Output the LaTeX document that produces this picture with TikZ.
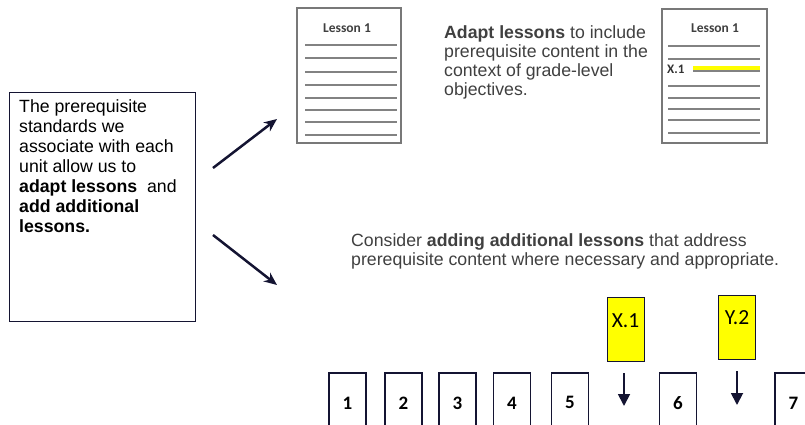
\documentclass[tikz,border=0pt]{standalone}
\usepackage{fontspec}
\setmainfont{Liberation Sans}
\newfontfamily\calib{Carlito}
\usetikzlibrary{arrows.meta,shadows}
\definecolor{ink}{RGB}{20,20,50}
\definecolor{txtgrey}{RGB}{64,64,64}
\definecolor{docgrey}{RGB}{120,120,120}
\definecolor{lineg}{RGB}{130,130,130}
\definecolor{hiyellow}{RGB}{255,255,0}
\tikzset{
  bigtext/.style={inner sep=0pt, align=left, font=\fontsize{17.7}{20}\selectfont},
  doc/.style={draw=docgrey, line width=1.4pt, fill=white, minimum width=104pt, minimum height=135pt,
    drop shadow={opacity=0.25, shadow xshift=1.2pt, shadow yshift=-1.2pt}},
  doctitle/.style={inner sep=0pt, font=\calib\bfseries\fontsize{13.5}{15}\selectfont, text=txtgrey},
  docline/.style={draw=lineg, line width=1.5pt},
  bigarrow/.style={draw=ink, line width=2.5pt, -{Stealth[length=13pt,width=11pt]}},
  downarrow/.style={draw=ink, line width=1.8pt, -{Triangle[length=12pt,width=12pt]}},
  tag/.style={draw=ink, line width=1pt, fill=hiyellow, minimum width=37pt, minimum height=64pt, inner sep=0pt},
  tagtext/.style={inner sep=0pt, font=\calib\fontsize{21.5}{24}\selectfont},
  lessonbox/.style={draw=ink, line width=1.8pt, minimum width=37pt, minimum height=60pt, inner sep=0pt,
    font=\calib\bfseries\fontsize{19}{20}\selectfont, anchor=north},
}
\begin{document}
\begin{tikzpicture}[x=1pt,y=-1pt]
\useasboundingbox (0,0) rectangle (805,425);
\clip (0,0) rectangle (805,425);

% left box
\node[draw=ink, line width=1.3pt, minimum width=186pt, minimum height=229pt, anchor=north west, inner sep=0pt] (intro) at (9,92) {};
\node[bigtext, anchor=north west] (introtext) at (19,99.5) {The prerequisite\\standards we\\associate with each\\unit allow us to\\\textbf{adapt lessons}\ \ and\\\textbf{add additional}\\\textbf{lessons.}};

% arrows
\coordinate (a1s) at (213,168);
\coordinate (a1e) at (277,119);
\coordinate (a2s) at (213,235);
\coordinate (a2e) at (277,285);
\draw[bigarrow] (a1s) -- (a1e);
\draw[bigarrow] (a2s) -- (a2e);

% doc 1
\node[doc] (doc1) at (349,75.5) {};
\node[doctitle] (doc1title) at (347,28) {Lesson 1};
\foreach \yy in {45,58,72,85,98,110,122,135}{
  \draw[docline] (305,\yy) -- (397,\yy);
}

% doc 2
\node[doc, minimum width=105pt, minimum height=134pt] (doc2) at (714.5,76) {};
\node[doctitle] (doc2title) at (715,28) {Lesson 1};
\foreach \yy in {46,59,86,98,109,120,133}{
  \draw[docline] (668,\yy) -- (760,\yy);
}
\node[doctitle, anchor=west, text=black!80, font=\calib\bfseries\fontsize{13}{15}\selectfont] (x1small) at (667,69.5) {X.1};
\draw[draw=hiyellow, line width=3.5pt] (693,67.8) -- (760,67.8);
\draw[docline] (693,71) -- (760,71);

% upper text
\node[bigtext, anchor=north west, text=txtgrey, font=\fontsize{17.7}{19}\selectfont] (adapttext) at (444,25.5) {\textbf{Adapt lessons} to include\\prerequisite content in the\\context of grade-level\\objectives.};

% lower text
\node[bigtext, anchor=north west, text=txtgrey, font=\fontsize{17.7}{19}\selectfont] (addtext) at (351,233.5) {Consider \textbf{adding additional lessons} that address\\prerequisite content where necessary and appropriate.};

% yellow tags
\node[tag, anchor=north west] (tagx) at (607,297) {};
\node[tagtext] (tagxt) at (625.5,321) {X.1};
\node[tag, anchor=north west] (tagy) at (718,295) {};
\node[tagtext] (tagyt) at (737,318) {Y.2};

\coordinate (dx1) at (624,373);
\coordinate (dx2) at (624,406);
\coordinate (dy1) at (737,371);
\coordinate (dy2) at (737,405);
\draw[downarrow] (dx1) -- (dx2);
\draw[downarrow] (dy1) -- (dy2);

% lesson boxes
\node[lessonbox] (l1) at (347.5,372) {1};
\node[lessonbox] (l2) at (403.5,372) {2};
\node[lessonbox] (l3) at (457.5,372) {3};
\node[lessonbox] (l4) at (512,372) {4};
\node[lessonbox] (l5) at (570,372) {5};
\node[lessonbox] (l6) at (678,372) {6};
\node[lessonbox] (l7) at (793.5,372) {7};
\end{tikzpicture}
\end{document}
